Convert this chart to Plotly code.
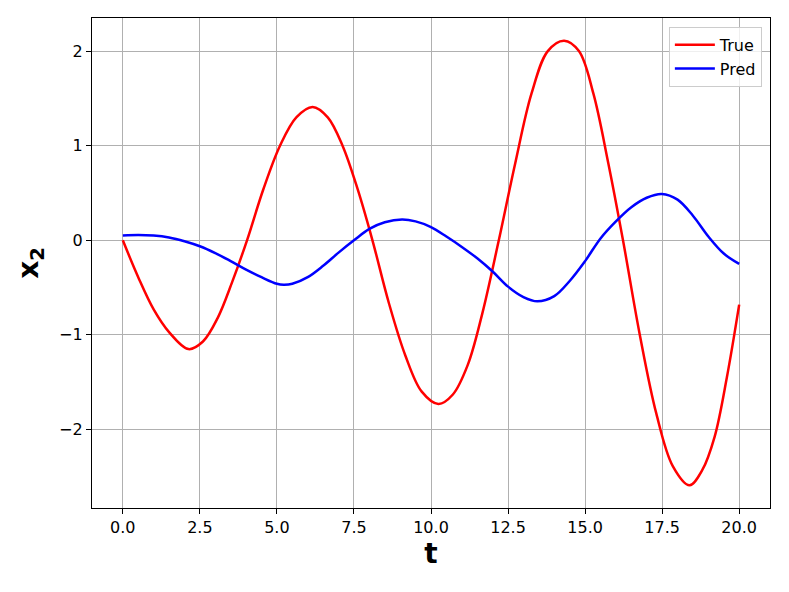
import plotly.graph_objects as go

# values
t_true = [0.0, 0.5, 1.0, 1.5, 2.13, 2.6, 3.08, 3.55, 4.03, 4.56, 5.1, 5.63, 6.16, 6.65,
          7.13, 7.62, 8.1, 8.63, 9.17, 9.7, 10.24, 10.71, 11.19, 11.66, 12.2, 12.73, 13.26,
          13.79, 14.32, 14.8, 15.27, 15.75, 16.23, 16.77, 17.31, 17.85, 18.39, 18.8, 19.2,
          19.6, 20.0]
x2_true = [0.0, -0.39, -0.73, -0.97, -1.15, -1.07, -0.82, -0.44, 0.0, 0.54, 1.0, 1.30,
           1.41, 1.30, 1.0, 0.54, 0.0, -0.66, -1.22, -1.6, -1.73, -1.63, -1.32, -0.78,
           0.0, 0.81, 1.55, 2.0, 2.11, 2.0, 1.55, 0.82, 0.0, -0.99, -1.83, -2.39, -2.59,
           -2.43, -2.08, -1.45, -0.68]

t_pred = [0.0, 0.5, 1.0, 1.5, 2.0, 2.5, 3.0, 3.5, 4.0, 4.5, 5.0, 5.22, 5.5, 6.0, 6.5, 7.0,
          7.5, 8.0, 8.5, 9.06, 9.5, 10.0, 10.5, 11.0, 11.5, 12.0, 12.5, 13.0, 13.45, 14.0,
          14.5, 15.0, 15.5, 16.0, 16.5, 17.0, 17.49, 18.0, 18.5, 19.0, 19.5, 20.0]
x2_pred = [0.05, 0.055, 0.05, 0.03, -0.01, -0.063, -0.135, -0.22, -0.31, -0.39, -0.46,
           -0.47, -0.46, -0.39, -0.27, -0.13, 0.0, 0.12, 0.19, 0.22, 0.2, 0.14, 0.04, -0.07,
           -0.19, -0.33, -0.49, -0.6, -0.645, -0.59, -0.43, -0.22, 0.02, 0.2, 0.35, 0.45,
           0.49, 0.43, 0.26, 0.04, -0.14, -0.25]

fig = go.Figure()
fig.add_trace(go.Scatter(x=t_true, y=x2_true, mode="lines", name="True",
                         line=dict(color="#ff0000", width=2.5, shape="spline", smoothing=1)))
fig.add_trace(go.Scatter(x=t_pred, y=x2_pred, mode="lines", name="Pred",
                         line=dict(color="#0000ff", width=2.5, shape="spline", smoothing=1)))

axis_style = dict(
    showline=True, linecolor="black", linewidth=1.2, mirror=True,
    showgrid=True, gridcolor="#b0b0b0", gridwidth=1.1, zeroline=False,
    ticks="outside", ticklen=5, tickcolor="black",
    tickfont=dict(family="DejaVu Sans", size=16, color="black"),
)

fig.update_layout(
    width=789, height=592,
    margin=dict(l=92, r=19, t=18, b=84),
    paper_bgcolor="white", plot_bgcolor="white",
    font=dict(family="DejaVu Sans", color="black"),
    xaxis=dict(range=[-1.0, 21.0], tick0=0, dtick=2.5, tickformat=".1f",
               title=dict(text="<b>t</b>", font=dict(size=28), standoff=6), **axis_style),
    yaxis=dict(range=[-2.83, 2.35], tick0=0, dtick=1,
               title=dict(text="<b>x<sub>2</sub></b>", font=dict(size=28), standoff=12), **axis_style),
    legend=dict(x=0.988, y=0.982, xanchor="right", yanchor="top", itemwidth=40,
                bgcolor="rgba(255,255,255,0.8)", bordercolor="#cccccc", borderwidth=1,
                font=dict(family="DejaVu Sans", size=16)),
    showlegend=True,
)

fig.write_html("out.html", config={"displayModeBar": False},
               post_script="document.body.style.margin='0px';")
